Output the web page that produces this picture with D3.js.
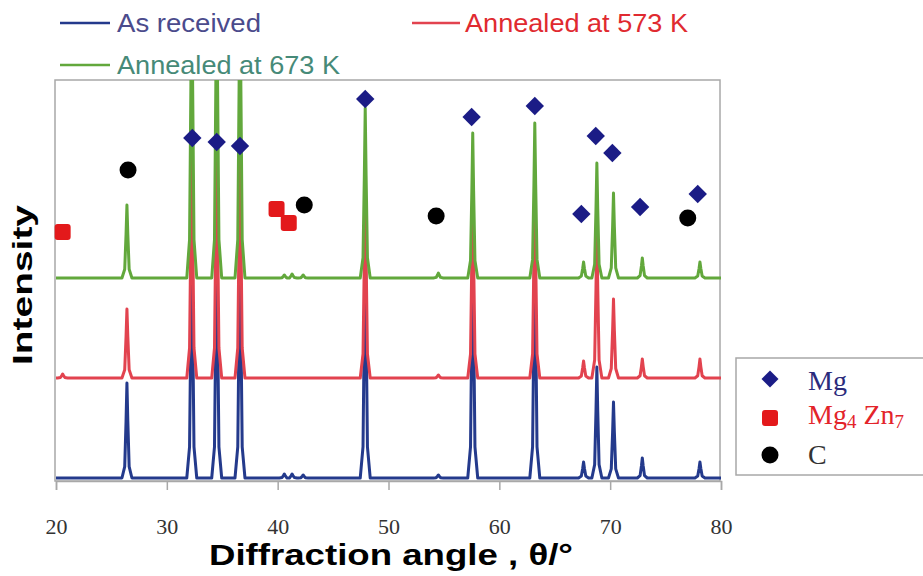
<!DOCTYPE html>
<html>
<head>
<meta charset="utf-8">
<script src="https://cdn.jsdelivr.net/npm/d3@7"></script>
<style>
  body { margin: 0; background: #fff; }
  svg { display: block; }
</style>
</head>
<body>
<svg width="923" height="576"></svg>
<script>
// tick labels along the x axis
var xTicks = [20, 30, 40, 50, 60, 70, 80];

// peaks: [angle, height above the trace's own baseline]
var asReceived = [[26.4, 95], [32.25, 260], [34.5, 260], [36.6, 260], [40.6, 4], [41.3, 4], [42.3, 3],
	[47.9, 260], [54.5, 3], [57.6, 260], [63.2, 260], [67.6, 16], [68.8, 111], [70.3, 76], [72.9, 20], [78.1, 16]];
var annealed573 = [[20.6, 4], [26.4, 69], [32.25, 250], [34.5, 250], [36.6, 250],
	[47.9, 200], [54.5, 3], [57.6, 200], [63.2, 200], [67.6, 17], [68.8, 150], [70.3, 79], [72.9, 19], [78.1, 19]];
var annealed673 = [[26.4, 73], [32.25, 320], [34.5, 320], [36.6, 320], [40.6, 3], [41.3, 4], [42.3, 3],
	[47.9, 170], [54.5, 5], [57.6, 145], [63.2, 155], [67.6, 16], [68.8, 115], [70.3, 85], [72.9, 20], [78.1, 16]];

// vertical offsets of the stacked traces
var offsets = [0, 100, 200];

// phase markers: [angle, intensity]
var mgMarks = [[32.3, 340], [34.5, 336], [36.6, 332], [47.9, 379], [57.5, 361], [63.2, 372],
	[67.4, 264], [68.7, 342], [70.2, 325], [72.7, 271], [77.9, 284]];
var mgznMarks = [[20.6, 246], [39.9, 269], [41.0, 255]];
var cMarks = [[26.5, 308], [42.4, 273], [54.3, 262], [77.0, 260]];

var series = [
	{ name: "As received", peaks: asReceived, offset: offsets[0], color: "#243a8c", text: "#4b4b8c" },
	{ name: "Annealed at 573 K", peaks: annealed573, offset: offsets[1], color: "#e2434f", text: "#e02a30" },
	{ name: "Annealed at 673 K", peaks: annealed673, offset: offsets[2], color: "#62a83c", text: "#468a78" }
];

var svg = d3.select("svg");
var pLeft = 56, pRight = 721, pTop = 80, pBottom = 481;

var x = d3.scaleLinear().domain([20, 80]).range([pLeft, pRight]);
var y = d3.scaleLinear().domain([-3, 398]).range([pBottom, pTop]);

// stick-pattern profile used to draw each read peak
var profileDx = [-0.45, -0.2, -0.08, 0, 0.08, 0.2, 0.45];
var profileFr = [0, 0.12, 0.6, 1, 0.6, 0.12, 0];

function tracePoints(s) {
	var pts = [[20, 0]];
	s.peaks.forEach(function(p) {
		profileDx.forEach(function(dx, i) {
			pts.push([p[0] + dx, p[1] * profileFr[i]]);
		});
	});
	pts.push([80, 0]);
	pts.sort(function(a, b) { return a[0] - b[0]; });
	return pts.map(function(p) { return [p[0], p[1] + s.offset]; });
}

svg.append("clipPath").attr("id", "plot")
	.append("rect").attr("x", pLeft - 1).attr("y", pTop).attr("width", pRight - pLeft + 2).attr("height", pBottom - pTop);

// frame
svg.append("rect")
	.attr("x", pLeft - 1).attr("y", pTop)
	.attr("width", pRight - pLeft).attr("height", pBottom - pTop)
	.attr("fill", "none").attr("stroke", "#a8a8a8").attr("stroke-width", 1.5);

var line = d3.line()
	.x(function(d) { return x(d[0]); })
	.y(function(d) { return y(d[1]); });

var g = svg.append("g").attr("clip-path", "url(#plot)");
series.forEach(function(s) {
	g.append("path")
		.datum(tracePoints(s))
		.attr("fill", "none")
		.attr("stroke", s.color)
		.attr("stroke-width", 3)
		.attr("stroke-linejoin", "round")
		.attr("d", line);
});

// x axis
var xAxis = svg.append("g")
	.attr("transform", "translate(0," + pBottom + ")")
	.call(d3.axisBottom(x).tickValues(xTicks).tickSize(9).tickPadding(28));
xAxis.select(".domain").attr("stroke", "#a8a8a8").attr("stroke-width", 1.5);
xAxis.selectAll(".tick line").attr("stroke", "#a8a8a8").attr("stroke-width", 1.5);
xAxis.selectAll(".tick text")
	.attr("font-family", "Liberation Serif, DejaVu Serif, serif")
	.attr("font-size", 22).attr("fill", "#333");

// markers
var mk = svg.append("g");
mk.selectAll(".mg").data(mgMarks).enter().append("rect")
	.attr("x", -6.5).attr("y", -6.5).attr("width", 13).attr("height", 13)
	.attr("fill", "#1b1c86")
	.attr("transform", function(d) { return "translate(" + x(d[0]) + "," + y(d[1]) + ") rotate(45)"; });
mk.selectAll(".mz").data(mgznMarks).enter().append("rect")
	.attr("x", function(d) { return x(d[0]) - 8; })
	.attr("y", function(d) { return y(d[1]) - 8; })
	.attr("width", 16).attr("height", 16).attr("rx", 3)
	.attr("fill", "#e3191b");
mk.selectAll(".c").data(cMarks).enter().append("circle")
	.attr("cx", function(d) { return x(d[0]); })
	.attr("cy", function(d) { return y(d[1]); })
	.attr("r", 8.5).attr("fill", "#000");

// series legend at the top
var sansNarrow = "Liberation Sans Narrow, Liberation Sans, Arial, sans-serif";
var legPos = [[60, 23, 110, 117, 144], [412, 23, 460, 465, 223], [60, 65, 110, 117, 223]];
series.forEach(function(s, i) {
	var p = legPos[i];
	svg.append("line").attr("x1", p[0]).attr("x2", p[2]).attr("y1", p[1]).attr("y2", p[1])
		.attr("stroke", s.color).attr("stroke-width", 2.5);
	svg.append("text").attr("x", p[3]).attr("y", p[1] + 9)
		.attr("font-family", sansNarrow).attr("font-size", 26)
		.attr("textLength", p[4]).attr("lengthAdjust", "spacingAndGlyphs")
		.attr("fill", s.text).text(s.name);
});

// axis titles
svg.append("text")
	.attr("transform", "translate(32,285) rotate(-90)")
	.attr("text-anchor", "middle")
	.attr("font-family", "Liberation Sans, Arial, sans-serif").attr("font-weight", "bold")
	.attr("font-size", 27).attr("textLength", 160).attr("lengthAdjust", "spacingAndGlyphs")
	.attr("fill", "#000").text("Intensity");
svg.append("text")
	.attr("x", 391).attr("y", 565)
	.attr("text-anchor", "middle")
	.attr("font-family", "Liberation Sans, Arial, sans-serif").attr("font-weight", "bold")
	.attr("font-size", 29).attr("textLength", 364).attr("lengthAdjust", "spacingAndGlyphs")
	.attr("fill", "#000").text("Diffraction angle , θ/°");

// phase legend box
var lg = svg.append("g");
lg.append("rect").attr("x", 736).attr("y", 358).attr("width", 200).attr("height", 117)
	.attr("fill", "#fff").attr("stroke", "#a8a8a8").attr("stroke-width", 1.5);
lg.append("rect").attr("x", -6).attr("y", -6).attr("width", 12).attr("height", 12)
	.attr("fill", "#1b1c86").attr("transform", "translate(770,379) rotate(45)");
lg.append("rect").attr("x", 762).attr("y", 410).attr("width", 16).attr("height", 16).attr("rx", 3)
	.attr("fill", "#e3191b");
lg.append("circle").attr("cx", 770).attr("cy", 455).attr("r", 8.5).attr("fill", "#000");
var serif = "Liberation Serif, DejaVu Serif, serif";
lg.append("text").attr("x", 808).attr("y", 390).attr("font-family", serif).attr("font-size", 28)
	.attr("fill", "#2b2b7c").text("Mg");
var t2 = lg.append("text").attr("x", 808).attr("y", 424).attr("font-family", serif).attr("font-size", 28)
	.attr("fill", "#e3242a");
t2.append("tspan").text("Mg");
t2.append("tspan").attr("font-size", 19).attr("dy", 4).text("4");
t2.append("tspan").attr("dy", -4).text(" Zn");
t2.append("tspan").attr("font-size", 19).attr("dy", 4).text("7");
lg.append("text").attr("x", 808).attr("y", 464).attr("font-family", serif).attr("font-size", 28)
	.attr("fill", "#333").text("C");
</script>
</body>
</html>
